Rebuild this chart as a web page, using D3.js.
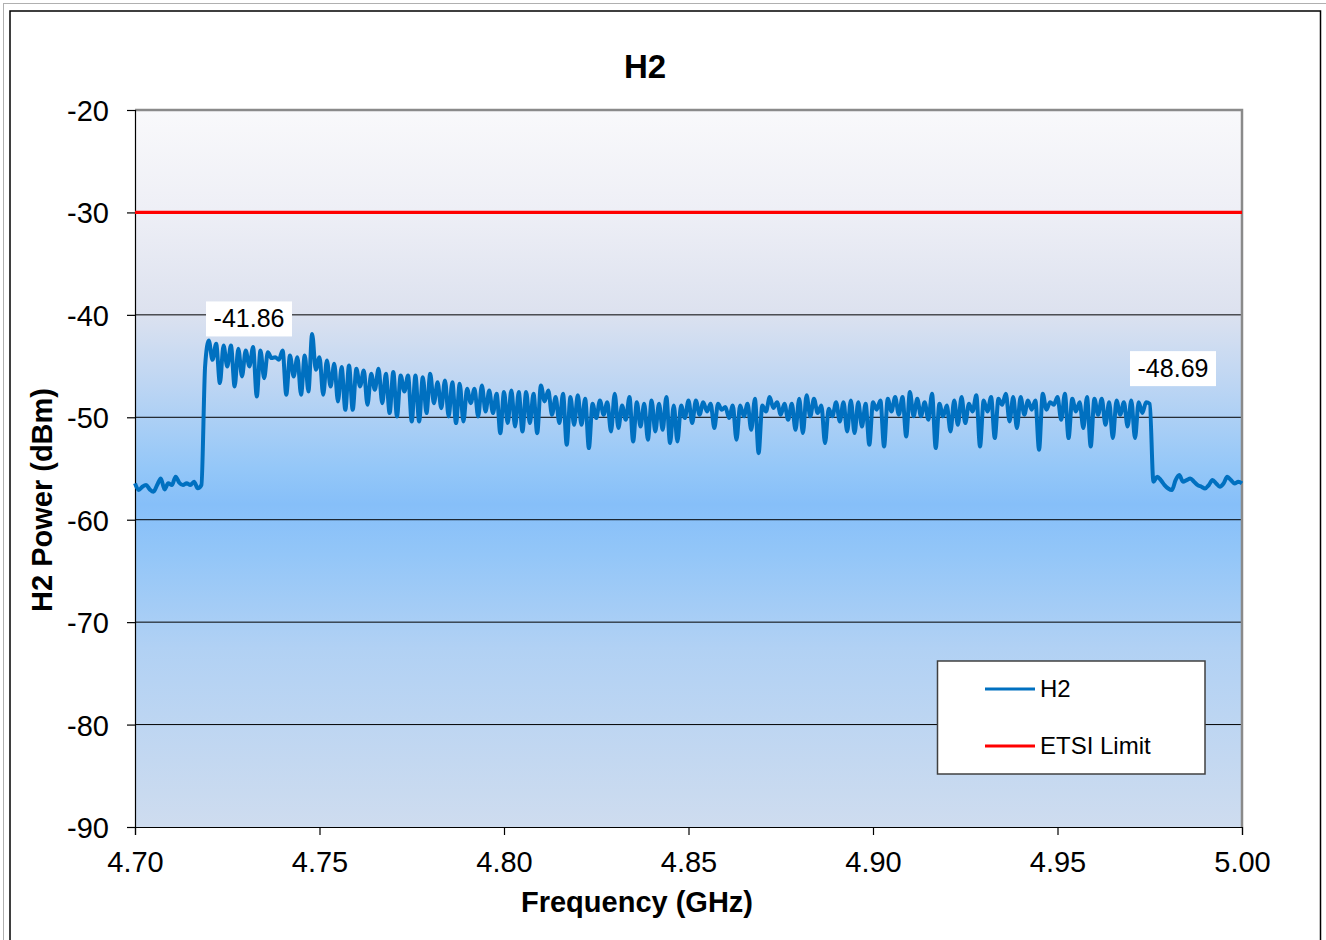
<!DOCTYPE html>
<html>
<head>
<meta charset="utf-8">
<script src="https://cdn.jsdelivr.net/npm/d3@7"></script>
<style>
  body { margin: 0; background: #fff; }
  svg { display: block; font-family: "Liberation Sans", Arial, sans-serif; }
</style>
</head>
<body>
<div id="chart"></div>
<script>
// sweep settings of the analyzer trace (one reading every 1 MHz)
const fStart = 4.700;
const fStep = 0.001;

// H2 power readings (dBm), 4.700 .. 5.000 GHz
const h2Power = [
  -56.45, -57.10, -56.78, -56.62, -57.04, -57.27, -56.62, -55.97, -57.04, -56.45,
  -56.62, -55.80, -56.39, -56.62, -56.45, -56.62, -56.29, -56.94, -56.62, -45.00,
  -42.50, -44.39, -42.82, -46.66, -42.99, -45.04, -42.99, -46.99, -43.31, -46.01,
  -43.47, -45.04, -43.15, -47.97, -43.47, -46.18, -43.64, -44.22, -44.13, -44.39,
  -43.47, -47.80, -43.96, -46.01, -44.13, -47.80, -43.96, -47.48, -41.86, -45.36,
  -44.13, -47.80, -44.45, -46.99, -44.78, -48.45, -45.10, -49.27, -44.94, -49.27,
  -45.26, -46.99, -45.43, -48.78, -45.75, -47.32, -45.26, -48.62, -45.75, -49.59,
  -45.59, -49.92, -45.92, -47.48, -45.92, -50.41, -45.92, -50.41, -46.08, -49.59,
  -45.75, -48.62, -46.57, -49.11, -46.40, -49.92, -46.57, -50.57, -46.73, -50.41,
  -47.22, -48.62, -47.22, -49.92, -46.89, -49.43, -47.38, -49.59, -47.71, -51.55,
  -47.54, -50.57, -47.38, -50.90, -47.54, -51.38, -47.54, -50.57, -47.71, -51.55,
  -46.89, -48.45, -47.38, -49.75, -48.03, -50.57, -47.70, -52.68, -48.03, -50.73,
  -47.86, -50.73, -48.19, -53.01, -48.68, -50.08, -48.35, -49.75, -48.52, -51.38,
  -47.70, -51.05, -48.84, -50.24, -48.03, -52.36, -48.52, -50.89, -48.68, -52.19,
  -48.35, -51.38, -48.68, -51.22, -48.03, -52.52, -48.84, -52.36, -48.84, -50.08,
  -48.35, -50.57, -48.35, -49.75, -48.52, -49.43, -48.68, -51.05, -48.68, -49.26,
  -49.00, -50.08, -48.84, -52.19, -48.84, -49.91, -48.68, -51.22, -48.19, -53.50,
  -48.84, -49.43, -48.03, -49.10, -48.52, -49.75, -48.68, -50.24, -48.68, -51.22,
  -48.19, -51.54, -47.86, -49.91, -48.19, -49.59, -48.84, -52.52, -49.17, -49.91,
  -48.52, -50.40, -48.52, -51.38, -48.35, -51.54, -48.52, -50.89, -48.68, -52.68,
  -48.52, -49.26, -48.35, -52.85, -48.19, -49.43, -48.03, -49.75, -48.03, -51.87,
  -47.54, -49.91, -48.19, -49.91, -48.52, -50.24, -47.70, -53.01, -48.68, -49.91,
  -48.84, -51.38, -48.35, -50.73, -48.03, -50.57, -48.68, -49.43, -47.86, -52.85,
  -48.35, -49.43, -48.03, -52.03, -48.19, -48.78, -47.70, -50.40, -48.03, -51.05,
  -48.03, -49.75, -48.35, -49.26, -48.35, -53.17, -47.70, -49.26, -48.52, -48.78,
  -48.03, -50.24, -47.70, -52.03, -48.19, -49.43, -48.52, -51.05, -48.03, -52.85,
  -48.19, -49.75, -48.19, -50.73, -48.52, -52.03, -48.35, -49.75, -48.52, -50.89,
  -48.35, -52.03, -48.52, -49.59, -48.52, -48.69, -56.29, -55.81, -56.13, -56.62,
  -56.95, -57.11, -56.13, -55.64, -56.29, -56.13, -55.97, -56.29, -56.62, -56.78,
  -56.95, -56.62, -56.13, -56.46, -56.78, -56.46, -55.81, -56.13, -56.46, -56.29,
  -56.46
];

// ETSI limit line
const limitFreq = [4.70, 5.00];
const limitPower = [-30, -30];

// tick values
const xTicks = [4.70, 4.75, 4.80, 4.85, 4.90, 4.95, 5.00];
const yTicks = [-20, -30, -40, -50, -60, -70, -80, -90];

// data labels shown on the trace
const labelText = ["-41.86", "-48.69"];
const labelFreq = [4.7309, 4.9813];
const labelPower = [-40.35, -45.2];

var width = 1326, height = 940;
var margin = { top: 110, right: 84, bottom: 113, left: 135 };
var plotW = width - margin.left - margin.right;
var plotH = height - margin.top - margin.bottom;

var svg = d3.select("#chart").append("svg")
  .attr("width", width)
  .attr("height", height);

// chart frame
svg.append("rect")
  .attr("x", 3.5).attr("y", 3.5)
  .attr("width", 1340).attr("height", 960)
  .attr("fill", "#fff").attr("stroke", "#b0b0b0").attr("stroke-width", 1);
svg.append("rect")
  .attr("x", 10).attr("y", 11)
  .attr("width", 1310.5).attr("height", 960)
  .attr("fill", "#fff").attr("stroke", "#000").attr("stroke-width", 1.5);

// background gradient of the plot area
var grad = svg.append("defs").append("linearGradient")
  .attr("id", "bg").attr("x1", 0).attr("y1", 0).attr("x2", 0).attr("y2", 1);
[[0, "#f9f9fb"], [0.14, "#eeeff6"], [0.28, "#dde2ef"], [0.38, "#bed6f3"],
 [0.50, "#94c7f8"], [0.55, "#86bff9"], [0.62, "#93c6f8"], [0.75, "#b1d1f4"],
 [1, "#cedcef"]].forEach(function (s) {
  grad.append("stop").attr("offset", s[0]).attr("stop-color", s[1]);
});

var g = svg.append("g")
  .attr("transform", "translate(" + margin.left + "," + margin.top + ")");

var x = d3.scaleLinear().domain([4.70, 5.00]).range([0, plotW]);
var y = d3.scaleLinear().domain([-90, -20]).range([plotH, 0]);

g.append("rect")
  .attr("width", plotW).attr("height", plotH)
  .attr("fill", "url(#bg)");

// horizontal gridlines
g.selectAll("line.grid")
  .data(yTicks.filter(function (d) { return d > -90 && d < -20; }))
  .enter().append("line")
  .attr("class", "grid")
  .attr("x1", 0).attr("x2", plotW)
  .attr("y1", function (d) { return y(d); })
  .attr("y2", function (d) { return y(d); })
  .attr("stroke", "#000").attr("stroke-width", 1);

// top and right border of plot area
g.append("path")
  .attr("d", "M0,0H" + plotW + "V" + plotH)
  .attr("fill", "none").attr("stroke", "#8a8a8a").attr("stroke-width", 2.5);

// axes
var yAxis = g.append("g")
  .call(d3.axisLeft(y).tickValues(yTicks).tickSize(8).tickPadding(18)
    .tickFormat(function (d) { return d.toFixed(0); }));
var xAxis = g.append("g")
  .attr("transform", "translate(0," + plotH + ")")
  .call(d3.axisBottom(x).tickValues(xTicks).tickSize(8).tickPadding(16)
    .tickFormat(function (d) { return d.toFixed(2); }));
[yAxis, xAxis].forEach(function (a) {
  a.select(".domain").attr("stroke", "#000").attr("stroke-width", 1.2);
  a.selectAll(".tick line").attr("stroke", "#000").attr("stroke-width", 1.2);
  a.selectAll("text")
    .attr("fill", "#000")
    .style("font-size", "29px")
    .style("font-family", "'Liberation Sans', Arial, sans-serif");
});
yAxis.selectAll("text").attr("dy", "0.36em");
xAxis.selectAll("text").attr("dy", "0.72em");

// series
var line = d3.line()
  .x(function (d) { return x(d[0]); })
  .y(function (d) { return y(d[1]); });

var limitData = limitFreq.map(function (f, i) { return [f, limitPower[i]]; });
g.append("path")
  .datum(limitData)
  .attr("d", line)
  .attr("fill", "none").attr("stroke", "#ff0000").attr("stroke-width", 3.2);

var h2Data = h2Power.map(function (p, i) { return [fStart + i * fStep, p]; });
g.append("path")
  .datum(h2Data)
  .attr("d", line.curve(d3.curveMonotoneX))
  .attr("fill", "none")
  .attr("stroke", "#0070c0")
  .attr("stroke-width", 4)
  .attr("stroke-linejoin", "round");

// data labels
labelText.forEach(function (t, i) {
  var cx = x(labelFreq[i]), cy = y(labelPower[i]);
  g.append("rect")
    .attr("x", cx - 43).attr("y", cy - 17)
    .attr("width", 86).attr("height", 35)
    .attr("fill", "#fff");
  g.append("text")
    .attr("x", cx).attr("y", cy + 9)
    .attr("text-anchor", "middle")
    .style("font-size", "25px")
    .text(t);
});

// legend
var legend = svg.append("g");
legend.append("rect")
  .attr("x", 937.5).attr("y", 661)
  .attr("width", 267.5).attr("height", 113)
  .attr("fill", "#fff").attr("stroke", "#404040").attr("stroke-width", 1.5);
[["H2", "#0070c0", 689], ["ETSI Limit", "#ff0000", 746]].forEach(function (l) {
  legend.append("line")
    .attr("x1", 985).attr("x2", 1035)
    .attr("y1", l[2]).attr("y2", l[2])
    .attr("stroke", l[1]).attr("stroke-width", 3.2);
  legend.append("text")
    .attr("x", 1040).attr("y", l[2] + 8)
    .style("font-size", "24px")
    .text(l[0]);
});

// titles
svg.append("text")
  .attr("x", 645).attr("y", 78)
  .attr("text-anchor", "middle")
  .style("font-size", "33px").style("font-weight", "bold")
  .text("H2");
svg.append("text")
  .attr("x", 637).attr("y", 912)
  .attr("text-anchor", "middle")
  .style("font-size", "29px").style("font-weight", "bold")
  .text("Frequency (GHz)");
svg.append("text")
  .attr("transform", "translate(52,500) rotate(-90)")
  .attr("text-anchor", "middle")
  .style("font-size", "29px").style("font-weight", "bold")
  .text("H2 Power (dBm)");
</script>
</body>
</html>
